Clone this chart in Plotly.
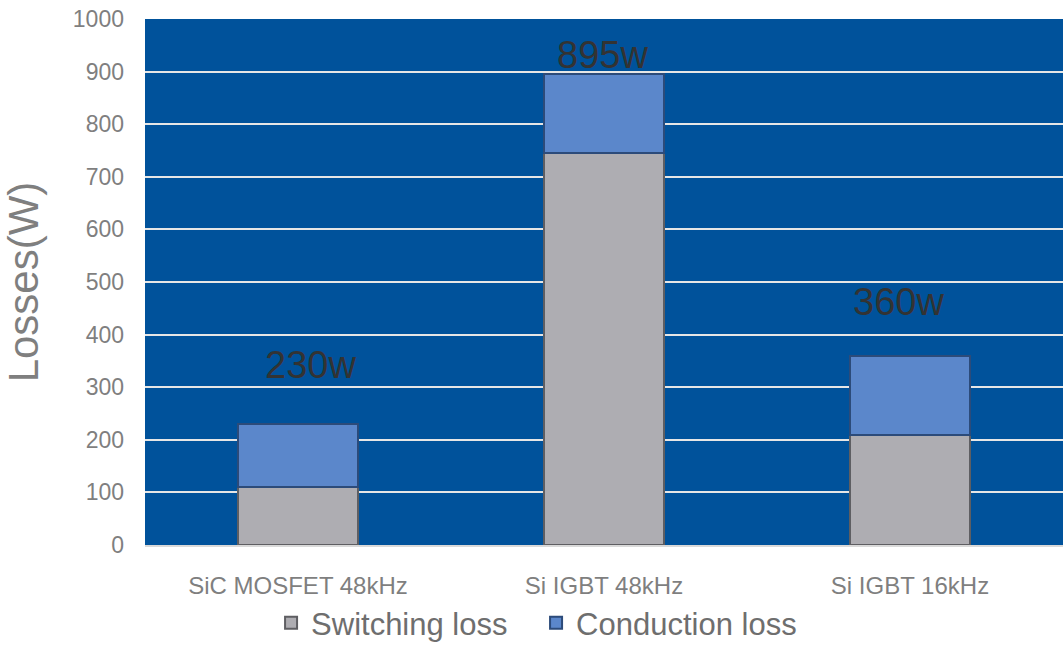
import plotly.graph_objects as go

categories = ["SiC MOSFET 48kHz", "Si IGBT 48kHz", "Si IGBT 16kHz"]
switching = [110, 745, 210]
conduction = [120, 150, 150]
total_labels = ["230w", "895w", "360w"]
label_y = [342, 931, 462]
label_xshift = [12, -2, -12]

fig = go.Figure()
fig.add_trace(go.Bar(
    x=categories, y=switching, name="Switching loss",
    marker=dict(color="#AEADB2", line=dict(color="#5E5E62", width=2)),
))
fig.add_trace(go.Bar(
    x=categories, y=conduction, name="Conduction loss",
    marker=dict(color="#5B87CB", line=dict(color="#2C4B7A", width=2)),
))

for c, ly, t, xs in zip(categories, label_y, total_labels, label_xshift):
    fig.add_annotation(x=c, y=ly, text=t, showarrow=False, xshift=xs,
                       font=dict(size=38, color="#333333", family="Liberation Sans"))

fig.update_layout(
    width=1063, height=645,
    barmode="stack", bargap=0.605,
    margin=dict(l=145, r=0, t=19, b=100, autoexpand=False),
    paper_bgcolor="white", plot_bgcolor="#00529B",
    font=dict(family="Liberation Sans", color="#7F7F7F"),
    legend=dict(orientation="h", traceorder="normal",
                x=0.255, xref="container", xanchor="left",
                y=0.034, yref="container", yanchor="middle",
                entrywidth=220, entrywidthmode="pixels", itemwidth=30,
                font=dict(size=31, color="#6E6E6E")),
    showlegend=True,
)
fig.update_yaxes(range=[0, 1000], dtick=100, showgrid=True, gridcolor="#E6E6E6", gridwidth=1.5,
                 tickfont=dict(size=23, color="#7F7F7F"), ticklabelstandoff=20,
                 title=dict(text="Losses(W)", font=dict(size=42, color="#7F7F7F"), standoff=26),
                 zeroline=False, automargin=False)
fig.update_xaxes(tickfont=dict(size=24, color="#7F7F7F"), ticklabelstandoff=18,
                 showline=True, linecolor="#D9D9D9", linewidth=2, automargin=False)

fig.write_html("out.html")
